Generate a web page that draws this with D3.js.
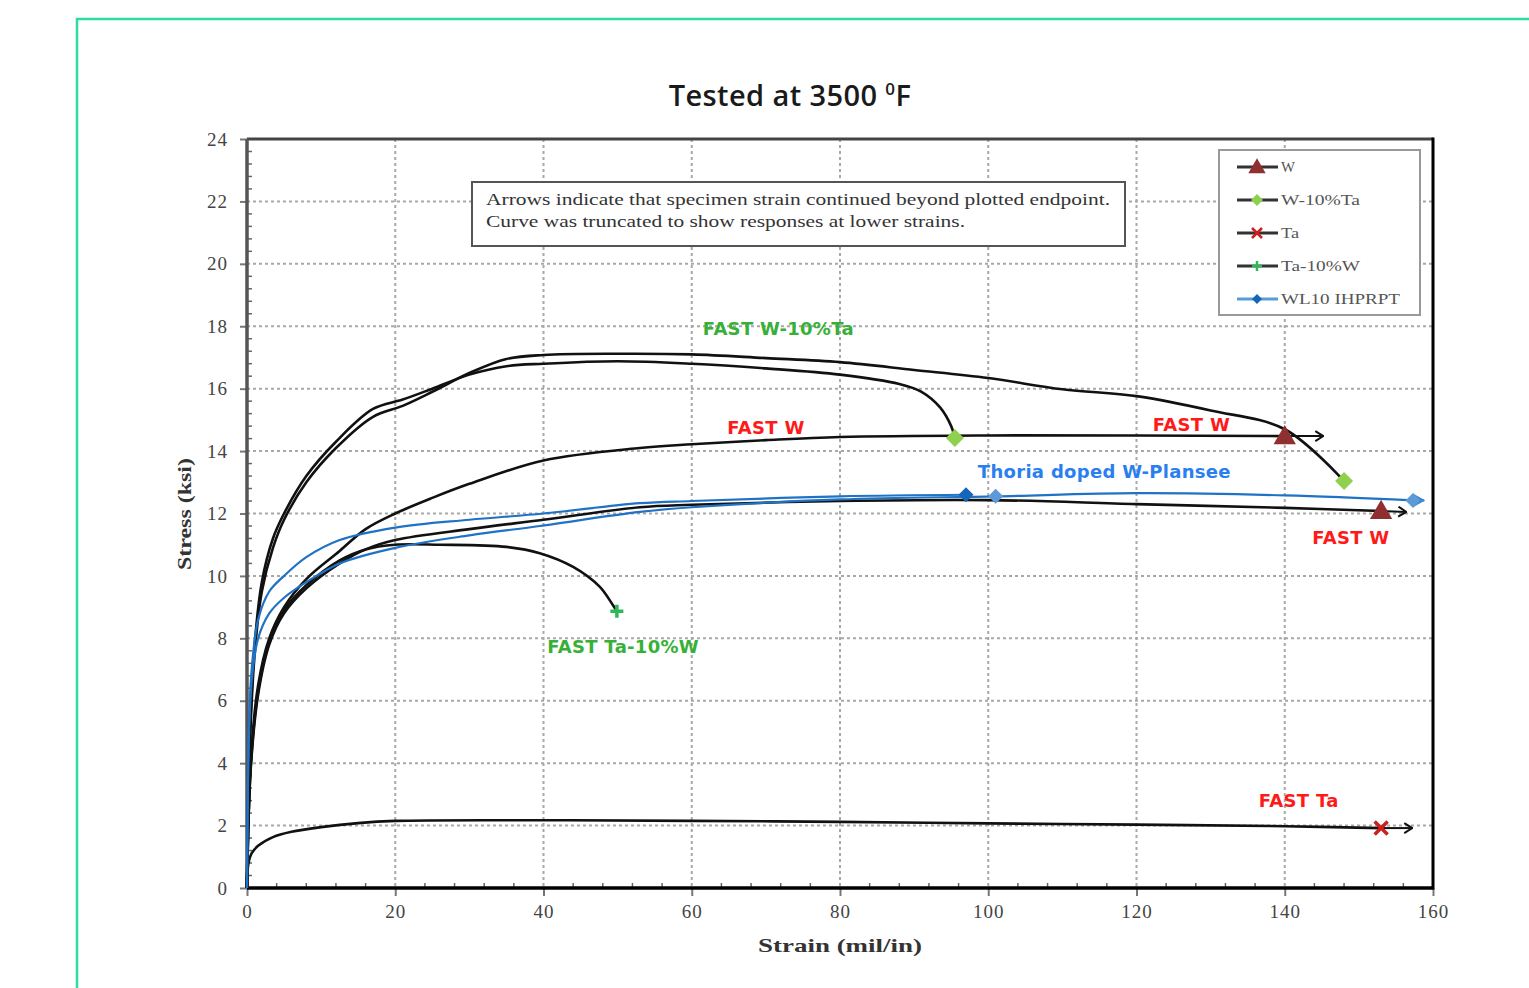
<!DOCTYPE html>
<html>
<head>
<meta charset="utf-8">
<script src="https://cdn.jsdelivr.net/npm/d3@7"></script>
<style>
  body { margin: 0; background: #fff; }
</style>
</head>
<body>
<div id="chart"></div>
<script>
var width = 1529, height = 988;
var plot = {left: 247, right: 1433, top: 139, bottom: 888};

// axis ticks
var xTicks = [0, 20, 40, 60, 80, 100, 120, 140, 160];
var yTicks = [0, 2, 4, 6, 8, 10, 12, 14, 16, 18, 20, 22, 24];

// curves: [strain (mil/in), stress (ksi)]
var wTaLong = [[0,0],[0.3,4],[1,7.4],[2,9.5],[3.5,10.9],[5,11.8],[8,13.0],[12,14.1],[17,15.1],[21,15.45],[25,15.9],[30,16.5],[35,16.95],[40,17.08],[50,17.12],[60,17.1],[70,16.98],[80,16.85],[90,16.6],[100,16.34],[110,15.98],[120,15.76],[130,15.3],[140,14.7],[148,13.04]];
var wTaShort = [[0,0],[0.3,4.2],[1,7.7],[2,9.8],[3.5,11.2],[5,12.0],[8,13.2],[12,14.3],[17,15.35],[21,15.65],[25,16.0],[30,16.45],[35,16.72],[40,16.8],[50,16.88],[60,16.8],[70,16.65],[80,16.45],[88,16.15],[91,15.9],[93.5,15.4],[95,14.8],[95.5,14.42]];
var wHigh = [[0,0],[0.5,4],[1.5,6.5],[3,8.0],[5,9.0],[8,9.9],[12.5,10.8],[16,11.5],[20,12.0],[25,12.5],[30,12.95],[40,13.7],[53,14.1],[60,14.22],[70,14.35],[80,14.45],[100,14.5],[120,14.5],[140,14.48]];
var wLow = [[0,0],[0.5,3.8],[1.5,6.2],[3,7.8],[5,8.8],[8,9.6],[12.5,10.4],[16,10.85],[20,11.15],[30,11.5],[40,11.8],[53,12.2],[60,12.28],[80,12.4],[100,12.43],[120,12.3],[140,12.18],[153,12.08]];
var taW = [[0,0],[0.5,3.9],[1.5,6.3],[3,7.9],[5,8.9],[8,9.7],[12.5,10.5],[16,10.85],[20,11.0],[26,11.0],[35,10.93],[39.5,10.73],[44,10.29],[47.6,9.65],[49.4,9.05],[49.9,8.87]];
var ta = [[0,0],[0.2,0.8],[0.6,1.1],[1.5,1.35],[3.5,1.63],[6,1.8],[10,1.95],[15,2.08],[20,2.15],[40,2.17],[60,2.15],[80,2.12],[100,2.07],[120,2.03],[140,1.98],[153,1.92]];
var wl10Upper = [[0,0],[0.3,5.5],[0.7,7.2],[1.5,8.6],[3,9.5],[5,10.0],[8,10.6],[12.5,11.15],[20,11.55],[30,11.8],[40,12.0],[53,12.33],[60,12.4],[80,12.55],[97,12.6]];
var wl10Lower = [[0,0],[0.3,5.2],[0.7,6.8],[1.5,8.0],[3,8.8],[5,9.3],[8,9.8],[12.5,10.4],[20,10.9],[30,11.3],[39.5,11.6],[53,12.05],[60,12.2],[80,12.45],[101,12.55],[120,12.65],[140,12.58],[157.3,12.42]];

// end points of the specimens
var wMarks = [[140,14.48],[153,12.08]];
var wTaMarks = [[95.5,14.42],[148,13.04]];
var taMarks = [[153,1.92]];
var taWMarks = [[49.9,8.87]];
var wl10Marks = [[97,12.6]];
var wl10LightMarks = [[101,12.55],[157.3,12.42]];
// arrows: strain continued beyond plotted endpoint [x0,y0,x1,y1]
var arrows = [[140,14.48,145.2,14.48],[153,12.08,156.4,12.05],[153,1.92,157.2,1.92]];
var blueArrows = [[157.3,12.42,158.8,12.42]];

var legendNames = ["W", "W-10%Ta", "Ta", "Ta-10%W", "WL10 IHPRPT"];

var labels = [
  {text: "FAST W-10%Ta", x: 61.5, y: 17.72, color: "#38b038"},
  {text: "FAST W", x: 64.8, y: 14.55, color: "#ff1a1a"},
  {text: "FAST W", x: 122.2, y: 14.63, color: "#ff1a1a"},
  {text: "FAST W", x: 143.7, y: 11.02, color: "#ff1a1a"},
  {text: "Thoria doped W-Plansee", x: 98.6, y: 13.14, color: "#2a7ff0"},
  {text: "FAST Ta-10%W", x: 40.5, y: 7.53, color: "#38b038"},
  {text: "FAST Ta", x: 136.5, y: 2.6, color: "#ff1a1a"}
];

var svg = d3.select("#chart").append("svg")
  .attr("width", width)
  .attr("height", height);

// outer frame
svg.append("path")
  .attr("d", "M77,988 L77,19 L1529,19")
  .attr("fill", "none")
  .attr("stroke", "#2edba0")
  .attr("stroke-width", 2.5);

var x = d3.scaleLinear().domain([0, 160]).range([plot.left, plot.right]);
var y = d3.scaleLinear().domain([0, 24]).range([plot.bottom, plot.top]);

// title
var title = svg.append("text")
  .attr("x", 790)
  .attr("y", 106)
  .attr("text-anchor", "middle")
  .attr("font-family", "'Open Sans', sans-serif")
  .attr("font-weight", 600)
  .attr("font-size", 29)
  .attr("letter-spacing", 0.4)
  .attr("fill", "#1a1a1a");
title.append("tspan").text("Tested at 3500 ");
title.append("tspan").text("0").attr("font-size", 17).attr("dy", -11);
title.append("tspan").text("F").attr("dy", 11);

// grid
var grid = svg.append("g").attr("stroke", "#a8a8a8").attr("stroke-width", 2).attr("stroke-dasharray", "3,3");
grid.selectAll(".gx").data(xTicks.slice(1, -1)).join("line")
  .attr("x1", d => x(d)).attr("x2", d => x(d))
  .attr("y1", plot.top).attr("y2", plot.bottom);
grid.selectAll(".gy").data(yTicks.slice(1, -1)).join("line")
  .attr("y1", d => y(d)).attr("y2", d => y(d))
  .attr("x1", plot.left).attr("x2", plot.right);

// axes
var xAxis = svg.append("g")
  .attr("transform", `translate(0,${plot.bottom})`)
  .call(d3.axisBottom(x).tickValues(xTicks).tickSize(5).tickPadding(12));
var yAxis = svg.append("g")
  .attr("transform", `translate(${plot.left},0)`)
  .call(d3.axisLeft(y).tickValues(yTicks).tickSize(7).tickPadding(12));
[xAxis, yAxis].forEach(a => {
  a.select(".domain").remove();
  a.selectAll("line").attr("stroke", "#777").attr("stroke-width", 2);
  a.selectAll("text")
    .attr("font-family", "'Liberation Serif', serif")
    .attr("font-size", 19)
    .attr("fill", "#444")
    .attr("letter-spacing", 1);
});
xAxis.selectAll(".tick line").attr("y2", 8).attr("y1", 0);

// minor ticks pointing inward
var xMinor = d3.range(0, 160, 4).filter(d => d % 20 !== 0);
var yMinor = d3.range(0, 24, 0.4).filter(d => Math.abs(d / 2 - Math.round(d / 2)) > 0.01);
svg.append("g").selectAll("line").data(xMinor).join("line")
  .attr("x1", d => x(d)).attr("x2", d => x(d))
  .attr("y1", plot.bottom).attr("y2", plot.bottom - 5)
  .attr("stroke", "#666").attr("stroke-width", 1.5);
svg.append("g").selectAll("line").data(yMinor).join("line")
  .attr("y1", d => y(d)).attr("y2", d => y(d))
  .attr("x1", plot.left).attr("x2", plot.left + 5)
  .attr("stroke", "#666").attr("stroke-width", 1.5);

// plot border
svg.append("line").attr("x1", plot.left).attr("x2", plot.right).attr("y1", plot.top).attr("y2", plot.top)
  .attr("stroke", "#444").attr("stroke-width", 3);
svg.append("line").attr("x1", plot.left).attr("x2", plot.left).attr("y1", plot.top).attr("y2", plot.bottom)
  .attr("stroke", "#555").attr("stroke-width", 3.5);
svg.append("line").attr("x1", plot.right).attr("x2", plot.right).attr("y1", plot.top - 1.5).attr("y2", plot.bottom + 1.5)
  .attr("stroke", "#000").attr("stroke-width", 3);
svg.append("line").attr("x1", plot.left).attr("x2", plot.right).attr("y1", plot.bottom).attr("y2", plot.bottom)
  .attr("stroke", "#000").attr("stroke-width", 3.5);

// axis titles
svg.append("text")
  .attr("x", 840).attr("y", 952)
  .attr("text-anchor", "middle")
  .attr("font-family", "'Liberation Serif', serif")
  .attr("font-weight", "bold")
  .attr("font-size", 19)
  .attr("fill", "#333")
  .attr("textLength", 164).attr("lengthAdjust", "spacingAndGlyphs")
  .text("Strain (mil/in)");
svg.append("text")
  .attr("transform", "translate(191,514) rotate(-90)")
  .attr("text-anchor", "middle")
  .attr("font-family", "'Liberation Serif', serif")
  .attr("font-weight", "bold")
  .attr("font-size", 19)
  .attr("fill", "#333")
  .attr("textLength", 112).attr("lengthAdjust", "spacingAndGlyphs")
  .text("Stress (ksi)");

// curves
var line = d3.line()
  .x(d => x(d[0]))
  .y(d => y(d[1]))
  .curve(d3.curveCatmullRom.alpha(0.5));

var blackCurves = [wTaLong, wTaShort, wHigh, wLow, taW, ta];
var blueCurves = [wl10Upper, wl10Lower];

svg.append("g").selectAll("path").data(blackCurves).join("path")
  .attr("d", line)
  .attr("fill", "none")
  .attr("stroke", "#111")
  .attr("stroke-width", 2.6);
svg.append("g").selectAll("path").data(blueCurves).join("path")
  .attr("d", line)
  .attr("fill", "none")
  .attr("stroke", "#1f72c4")
  .attr("stroke-width", 2.2);

// arrows
svg.append("defs").append("marker")
  .attr("id", "chev")
  .attr("viewBox", "0 0 12 12")
  .attr("refX", 11).attr("refY", 6)
  .attr("markerWidth", 12).attr("markerHeight", 12)
  .attr("markerUnits", "userSpaceOnUse")
  .attr("orient", "auto")
  .append("path")
  .attr("d", "M3,1 L11,6 L3,11")
  .attr("fill", "none")
  .attr("stroke", "#111")
  .attr("stroke-width", 2);
svg.select("defs").append("marker")
  .attr("id", "chevBlue")
  .attr("viewBox", "0 0 12 12")
  .attr("refX", 11).attr("refY", 6)
  .attr("markerWidth", 14).attr("markerHeight", 14)
  .attr("markerUnits", "userSpaceOnUse")
  .attr("orient", "auto")
  .append("path")
  .attr("d", "M2,1 L11,6 L2,11 Z")
  .attr("fill", "#3a86d4")
  .attr("stroke", "#3a86d4")
  .attr("stroke-width", 1);

svg.append("g").selectAll("line").data(arrows).join("line")
  .attr("x1", d => x(d[0])).attr("y1", d => y(d[1]))
  .attr("x2", d => x(d[2])).attr("y2", d => y(d[3]))
  .attr("stroke", "#111").attr("stroke-width", 2)
  .attr("marker-end", "url(#chev)");
svg.append("g").selectAll("line").data(blueArrows).join("line")
  .attr("x1", d => x(d[0])).attr("y1", d => y(d[1]))
  .attr("x2", d => x(d[2])).attr("y2", d => y(d[3]))
  .attr("stroke", "#1f72c4").attr("stroke-width", 2)
  .attr("marker-end", "url(#chevBlue)");

// marker shapes
function triangle(s) { return `M0,${-s * 0.62} L${s * 0.62},${s * 0.45} L${-s * 0.62},${s * 0.45} Z`; }
function diamond(s) { return `M0,${-s / 2} L${s / 2},0 L0,${s / 2} L${-s / 2},0 Z`; }
function cross(s) { return `M${-s / 2},${-s / 2} L${s / 2},${s / 2} M${s / 2},${-s / 2} L${-s / 2},${s / 2}`; }
function plus(s) { return `M${-s / 2},0 L${s / 2},0 M0,${-s / 2} L0,${s / 2}`; }

var markerStyles = {
  W: {d: triangle(18), fill: "#8f2f2f", stroke: "none", sw: 0},
  WTa: {d: diamond(18), fill: "#8fd14f", stroke: "none", sw: 0},
  Ta: {d: cross(13), fill: "none", stroke: "#cc1f1f", sw: 3.5},
  TaW: {d: plus(13), fill: "none", stroke: "#2fb85a", sw: 3.5},
  WL10: {d: diamond(15), fill: "#1466b8", stroke: "none", sw: 0},
  WL10Light: {d: diamond(15), fill: "#5c9ad8", stroke: "none", sw: 0}
};

function drawMarks(data, style) {
  var st = markerStyles[style];
  svg.append("g").selectAll("path").data(data).join("path")
    .attr("transform", d => `translate(${x(d[0])},${y(d[1])})`)
    .attr("d", st.d)
    .attr("fill", st.fill)
    .attr("stroke", st.stroke)
    .attr("stroke-width", st.sw);
}
drawMarks(wl10Marks, "WL10");
drawMarks(wl10LightMarks, "WL10Light");
drawMarks(wMarks, "W");
drawMarks(wTaMarks, "WTa");
drawMarks(taMarks, "Ta");
drawMarks(taWMarks, "TaW");

// curve labels
svg.append("g").selectAll("text").data(labels).join("text")
  .attr("x", d => x(d.x))
  .attr("y", d => y(d.y))
  .attr("font-family", "'DejaVu Sans', sans-serif")
  .attr("font-weight", "bold")
  .attr("font-size", 18)
  .attr("letter-spacing", 0.3)
  .attr("fill", d => d.color)
  .text(d => d.text);

// note box
var note = svg.append("g");
note.append("rect")
  .attr("x", 472).attr("y", 182).attr("width", 653).attr("height", 64)
  .attr("fill", "#fff").attr("stroke", "#555").attr("stroke-width", 2);
note.append("text")
  .attr("x", 486).attr("y", 205)
  .attr("font-family", "'Liberation Serif', serif").attr("font-size", 16).attr("fill", "#333")
  .attr("textLength", 624).attr("lengthAdjust", "spacingAndGlyphs")
  .text("Arrows indicate that specimen strain continued beyond plotted endpoint.");
note.append("text")
  .attr("x", 486).attr("y", 227)
  .attr("font-family", "'Liberation Serif', serif").attr("font-size", 16).attr("fill", "#333")
  .attr("textLength", 479).attr("lengthAdjust", "spacingAndGlyphs")
  .text("Curve was truncated to show responses at lower strains.");

// legend
var legend = svg.append("g");
legend.append("rect")
  .attr("x", 1219).attr("y", 150).attr("width", 201).attr("height", 165)
  .attr("fill", "#fff").attr("stroke", "#999").attr("stroke-width", 2);
var legendStyles = ["W", "WTa", "Ta", "TaW", "WL10"];
var legendWidths = [14, 79, 18, 79, 119];
var items = legend.selectAll("g.item").data(legendNames).join("g")
  .attr("class", "item")
  .attr("transform", (d, i) => `translate(1237,${167 + i * 33})`);
items.append("line")
  .attr("x1", 0).attr("x2", 41)
  .attr("stroke", (d, i) => i === 4 ? "#5b9bd5" : "#333")
  .attr("stroke-width", 3);
items.append("path")
  .attr("transform", "translate(20,0)")
  .attr("d", (d, i) => {
    var k = legendStyles[i];
    return k === "W" ? triangle(14) : k === "WTa" ? diamond(12) : k === "Ta" ? cross(10) : k === "TaW" ? plus(10) : diamond(10);
  })
  .attr("fill", (d, i) => markerStyles[legendStyles[i]].fill)
  .attr("stroke", (d, i) => markerStyles[legendStyles[i]].stroke)
  .attr("stroke-width", (d, i) => markerStyles[legendStyles[i]].sw ? 2.5 : 0);
items.append("text")
  .attr("x", 44).attr("y", 5)
  .attr("font-family", "'Liberation Serif', serif").attr("font-size", 14).attr("fill", "#555")
  .attr("textLength", (d, i) => legendWidths[i]).attr("lengthAdjust", "spacingAndGlyphs")
  .text(d => d);
</script>
</body>
</html>
